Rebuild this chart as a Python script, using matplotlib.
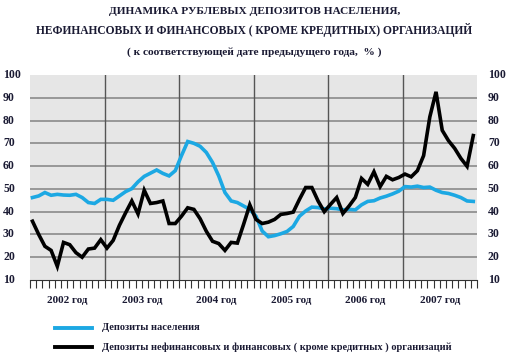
import matplotlib
matplotlib.use("Agg")
import matplotlib.pyplot as plt
import numpy as np

years = ["2002 год", "2003 год", "2004 год", "2005 год", "2006 год", "2007 год"]
yticks = [10, 20, 30, 40, 50, 60, 70, 80, 90, 100]

population = [46.2, 46.9, 48.4, 47.2, 47.6, 47.3, 47.2, 47.6, 46.2, 44.0, 43.6, 45.4,
              45.4, 45.0, 46.9, 48.8, 50.1, 53.1, 55.5, 56.9, 58.3, 56.8, 55.7, 58.0,
              64.6, 70.8, 70.0, 68.7, 66.0, 61.6, 55.7, 48.4, 44.7, 44.0, 42.5, 41.0,
              38.0, 31.5, 29.0, 29.5, 30.3, 31.3, 33.5, 38.0, 40.3, 42.0, 41.8, 41.2,
              41.5, 41.3, 40.8, 41.0, 40.8, 43.0, 44.5, 44.8, 46.0, 46.8, 47.8, 49.0,
              51.0, 50.8, 51.2, 50.6, 50.8, 49.4, 48.4, 48.0, 47.2, 46.2, 44.7, 44.5]

organizations = [35.8, 30.0, 24.8, 23.0, 16.0, 26.5, 25.5, 22.0, 20.0, 23.6, 24.0, 27.7,
                 24.0, 27.4, 34.0, 39.5, 44.7, 39.0, 49.4, 43.6, 44.0, 44.7, 34.8, 34.8,
                 38.0, 41.7, 41.0, 36.9, 31.4, 27.0, 26.0, 23.0, 26.5, 26.2, 34.4, 43.0,
                 36.6, 34.8, 35.4, 36.6, 38.8, 39.2, 39.8, 45.4, 50.6, 50.6, 44.7, 40.0,
                 43.2, 46.2, 39.2, 42.5, 46.2, 54.6, 52.0, 57.5, 51.0, 55.5, 54.0, 55.0,
                 56.5, 55.3, 58.0, 64.6, 81.6, 92.6, 75.7, 71.2, 67.8, 63.4, 59.9, 73.4]

title1 = "ДИНАМИКА РУБЛЕВЫХ ДЕПОЗИТОВ НАСЕЛЕНИЯ,"
title2 = "НЕФИНАНСОВЫХ И ФИНАНСОВЫХ ( КРОМЕ КРЕДИТНЫХ) ОРГАНИЗАЦИЙ"
title3 = "( к соответствующей дате предыдущего года,  % )"
legend_labels = ["Депозиты населения",
                 "Депозиты нефинансовых и финансовых ( кроме кредитных ) организаций"]

BLUE = "#1ca8e3"
TXT = "#1a1a33"
FONT = "Liberation Serif"

W, H = 509, 359
fig = plt.figure(figsize=(W / 100, H / 100), dpi=100)
fig.patch.set_facecolor("white")

L, R, T, B = 30, 477, 75, 280
ax = fig.add_axes([L / W, 1 - B / H, (R - L) / W, (B - T) / H])
ax.set_facecolor("#e6e6e6")

x = np.arange(len(population)) + 0.4
ax.set_xlim(0, 72)
ax.set_ylim(10, 100)

for v in yticks[1:-1]:
    ax.axhline(v, color="#8a8a8a", lw=1.2, zorder=1)
for k in range(1, 6):
    ax.axvline(12 * k, color="#555555", lw=1.0, zorder=1)

ax.plot(x, population, color=BLUE, lw=2.6, zorder=3, solid_joinstyle="miter")
ax.plot(x, organizations, color="black", lw=2.6, zorder=4, solid_joinstyle="miter")

for s in ["top", "right", "left"]:
    ax.spines[s].set_visible(False)
ax.spines["bottom"].set_color("#333333")
ax.spines["bottom"].set_linewidth(0.8)

ax.set_xticks(np.arange(0, 73, 1))
ax.set_xticklabels([])
ax.tick_params(axis="x", length=6, width=0.8, color="#333333", direction="out")
ax.set_yticks([])

for v in yticks:
    yy = ax.transData.transform((0, v))[1]
    fy = yy / H
    fig.text(3 / W, fy, str(v), ha="left", va="center", fontsize=8.5,
             fontweight="bold", family=FONT, color=TXT)
    fig.text(488 / W, fy, str(v), ha="left", va="center", fontsize=8.5,
             fontweight="bold", family=FONT, color=TXT)

for i, lab in enumerate(years):
    ax.text(12 * i + 6, -0.1, lab, transform=ax.get_xaxis_transform(),
            ha="center", va="center", fontsize=8, fontweight="bold",
            family=FONT, color=TXT)

fig.text(0.5, 1 - 12 / H, title1, ha="center", va="center", fontsize=8.2,
         fontweight="bold", family=FONT, color=TXT)
fig.text(0.5, 1 - 30 / H, title2, ha="center", va="center", fontsize=8.3,
         fontweight="bold", family=FONT, color=TXT)
fig.text(0.5, 1 - 52 / H, title3, ha="center", va="center", fontsize=8.2,
         fontweight="bold", family=FONT, color=TXT)

# legend
for j, (lab, col) in enumerate(zip(legend_labels, [BLUE, "black"])):
    yy = 1 - (328 + 19 * j) / H
    fig.add_artist(plt.Line2D([55 / W, 92 / W], [yy, yy], color=col, lw=2.8,
                              transform=fig.transFigure))
    fig.text(102 / W, yy, lab, ha="left", va="center", fontsize=7.5,
             fontweight="bold", family=FONT, color=TXT)

fig.savefig("out.png", dpi=100, facecolor="white")
